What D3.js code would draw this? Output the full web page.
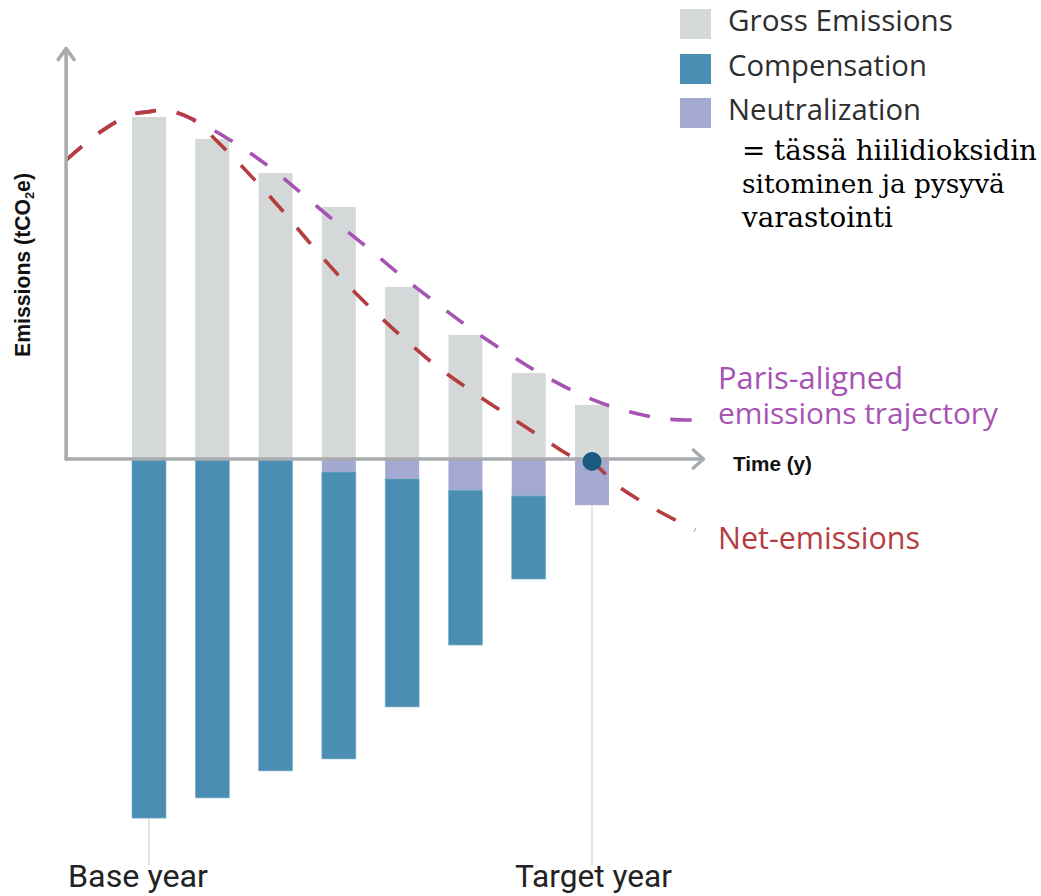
<!DOCTYPE html>
<html><head><meta charset="utf-8">
<script src="https://cdn.jsdelivr.net/npm/d3@7"></script>
<style>html,body{margin:0;padding:0;background:#fff;}svg{display:block;}</style>
</head><body>
<svg id="chart" width="1041" height="896"></svg>
<script>
// ---- data ----
const periods = [0, 1, 2, 3, 4, 5, 6, 7];
const periodLabels = ["Base year", "Target year"];
const grossEmissions = [100, 93.6, 83.6, 73.7, 50.3, 36.3, 25.1, 15.8];
const neutralization = [0, 0, 0, 3.8, 5.8, 9.1, 10.8, 13.5];
const compensation = [105, 99.1, 91.2, 83.9, 66.7, 45.3, 24.3, 0];
const netTime = [-1.31, -0.77, -0.30, -0.02, 0.25, 0.65, 1.17, 1.64, 2.10, 2.54, 3.02, 3.49, 4.00, 4.52, 5.07, 5.66, 6.22, 6.70, 7.00, 7.39, 7.96, 8.63];
const netValues = [87.4, 95.6, 100.6, 101.5, 102, 99.7, 91.2, 82.2, 72.8, 63.2, 53.2, 44.4, 35.7, 27.5, 20.2, 12.9, 6.1, 0.6, -0.9, -7.6, -14.3, -20.8];
const parisTime = [-1.31, -0.77, -0.30, -0.02, 0.25, 0.65, 1.28, 1.86, 2.39, 2.91, 3.44, 3.97, 4.52, 5.07, 5.66, 6.22, 6.84, 7.49, 8.18, 8.74];
const parisValues = [87.4, 95.6, 100.6, 101.5, 102, 99.7, 93.3, 86, 78, 69.9, 62, 53.8, 45.9, 38.3, 31, 24.6, 18.7, 14.3, 11.7, 11.4];
const legendItems = ["Gross Emissions", "Compensation", "Neutralization"];
const noteLines = ["= tässä hiilidioksidin", "sitominen ja pysyvä", "varastointi"];

// ---- scales ----
const svg = d3.select("#chart");
const x = d3.scaleLinear().domain([0, 7]).range([149, 592]);
const y = d3.scaleLinear().domain([-120, 120]).range([869.4, 48.6]);
const barW = 34;
const col = {gross: "#d4d8d9", comp: "#4a8fb3", neut: "#a3a9d0", axis: "#a8acaf",
             net: "#b53d3f", paris: "#a653b3", dot: "#1b5a7e"};

function fit(sel, target) {
  const n = sel.node();
  const base = parseFloat(sel.attr("font-size"));
  const len = n.getComputedTextLength();
  sel.attr("font-size", (base * target / len).toFixed(2));
}

// guide lines
svg.append("line").attr("x1", x(0)).attr("x2", x(0))
  .attr("y1", y(-compensation[0] - neutralization[0])).attr("y2", 865)
  .attr("stroke", "#e2e6e8").attr("stroke-width", 2);
svg.append("line").attr("x1", x(7)).attr("x2", x(7))
  .attr("y1", y(-compensation[7] - neutralization[7])).attr("y2", 865)
  .attr("stroke", "#e2e6e8").attr("stroke-width", 2);

// bars
const bars = svg.append("g");
bars.selectAll("rect.g").data(periods).join("rect")
  .attr("x", d => x(d) - barW / 2).attr("width", barW)
  .attr("y", d => y(grossEmissions[d])).attr("height", d => y(0) - y(grossEmissions[d]))
  .attr("fill", col.gross);
bars.selectAll("rect.n").data(periods.filter(d => neutralization[d] > 0)).join("rect")
  .attr("x", d => x(d) - barW / 2).attr("width", barW)
  .attr("y", y(0)).attr("height", d => y(-neutralization[d]) - y(0))
  .attr("fill", col.neut);
bars.selectAll("rect.c").data(periods.filter(d => compensation[d] > 0)).join("rect")
  .attr("x", d => x(d) - barW / 2).attr("width", barW)
  .attr("y", d => y(-neutralization[d])).attr("height", d => y(-neutralization[d] - compensation[d]) - y(-neutralization[d]))
  .attr("fill", col.comp).attr("stroke", "#7fb0cb").attr("stroke-width", 0.6);

// curves
const line = d3.line().x(d => x(d[0])).y(d => y(d[1])).curve(d3.curveCatmullRom.alpha(0.5));
svg.append("path").datum(parisTime.map((t, i) => [t, parisValues[i]]))
  .attr("d", line).attr("fill", "none").attr("stroke", col.paris)
  .attr("stroke-width", 3.6).attr("stroke-dasharray", "21,21");
svg.append("path").datum(netTime.map((t, i) => [t, netValues[i]]))
  .attr("d", line).attr("fill", "none").attr("stroke", col.net)
  .attr("stroke-width", 3.6).attr("stroke-dasharray", "21,21");

// axes
const ax = svg.append("g").attr("stroke", col.axis).attr("stroke-width", 3.5).attr("fill", "none")
  .attr("stroke-linecap", "round").attr("stroke-linejoin", "round");
const x0 = x(-1.31), xEnd = x(8.76), yTop = y(120);
ax.append("line").attr("x1", x0).attr("x2", x0).attr("y1", y(0)).attr("y2", yTop);
ax.append("path").attr("d", `M${x0 - 8},${yTop + 11}L${x0},${yTop}L${x0 + 8},${yTop + 11}`);
ax.append("line").attr("x1", x0).attr("x2", xEnd).attr("y1", y(0)).attr("y2", y(0));
ax.append("path").attr("d", `M${xEnd - 10},${y(0) - 9}L${xEnd},${y(0)}L${xEnd - 10},${y(0) + 9}`);

// target dot
svg.append("circle").attr("cx", x(7)).attr("cy", y(-0.7)).attr("r", 9.5).attr("fill", col.dot);

// axis titles
const yl = svg.append("text").attr("transform", "translate(30,265) rotate(-90)")
  .attr("text-anchor", "middle").attr("font-family", "Liberation Sans, Arial, sans-serif")
  .attr("font-weight", "bold").attr("font-size", 15).attr("fill", "#111");
yl.append("tspan").text("Emissions (tCO");
yl.append("tspan").text("2").attr("font-size", "0.6em").attr("dy", 4);
yl.append("tspan").text("e)").attr("dy", -4);
fit(yl, 184);

const tl = svg.append("text").attr("x", 733).attr("y", 471).text("Time (y)")
  .attr("font-family", "Liberation Sans, Arial, sans-serif").attr("font-weight", "bold")
  .attr("font-size", 15).attr("fill", "#111");
fit(tl, 79);

// legend
const legendColors = [col.gross, col.comp, col.neut];
const legendBase = [31, 76, 120];
const legendWidths = [225, 199, 193];
legendItems.forEach((t, i) => {
  svg.append("rect").attr("x", 680).attr("y", legendBase[i] - 22).attr("width", 31).attr("height", 30)
    .attr("fill", legendColors[i]);
  const tx = svg.append("text").attr("x", 728).attr("y", legendBase[i]).text(t)
    .attr("font-family", "Open Sans, sans-serif").attr("font-size", 24).attr("fill", "#2e2e2e");
  fit(tx, legendWidths[i]);
});
const noteBase = [160, 193, 227];
const noteWidths = [295, 263, 151];
noteLines.forEach((t, i) => {
  const tx = svg.append("text").attr("x", 742).attr("y", noteBase[i]).text(t)
    .attr("font-family", "DejaVu Serif, serif").attr("font-size", 26).attr("fill", "#000");
  fit(tx, noteWidths[i]);
});

// curve labels
const curveLabels = [
  {t: "Paris-aligned", y: 389, w: 185, c: col.paris},
  {t: "emissions trajectory", y: 424, w: 280, c: col.paris},
  {t: "Net-emissions", y: 549, w: 202, c: col.net}];
curveLabels.forEach(d => {
  const tx = svg.append("text").attr("x", 718).attr("y", d.y).text(d.t)
    .attr("font-family", "Open Sans, sans-serif").attr("font-size", 26).attr("fill", d.c);
  fit(tx, d.w);
});

// period labels
[{t: periodLabels[0], x: 68, w: 140}, {t: periodLabels[1], x: 515, w: 157}].forEach(d => {
  const tx = svg.append("text").attr("x", d.x).attr("y", 887).text(d.t)
    .attr("font-family", "Roboto, sans-serif").attr("font-size", 27).attr("fill", "#222");
  fit(tx, d.w);
});
</script>
</body></html>
